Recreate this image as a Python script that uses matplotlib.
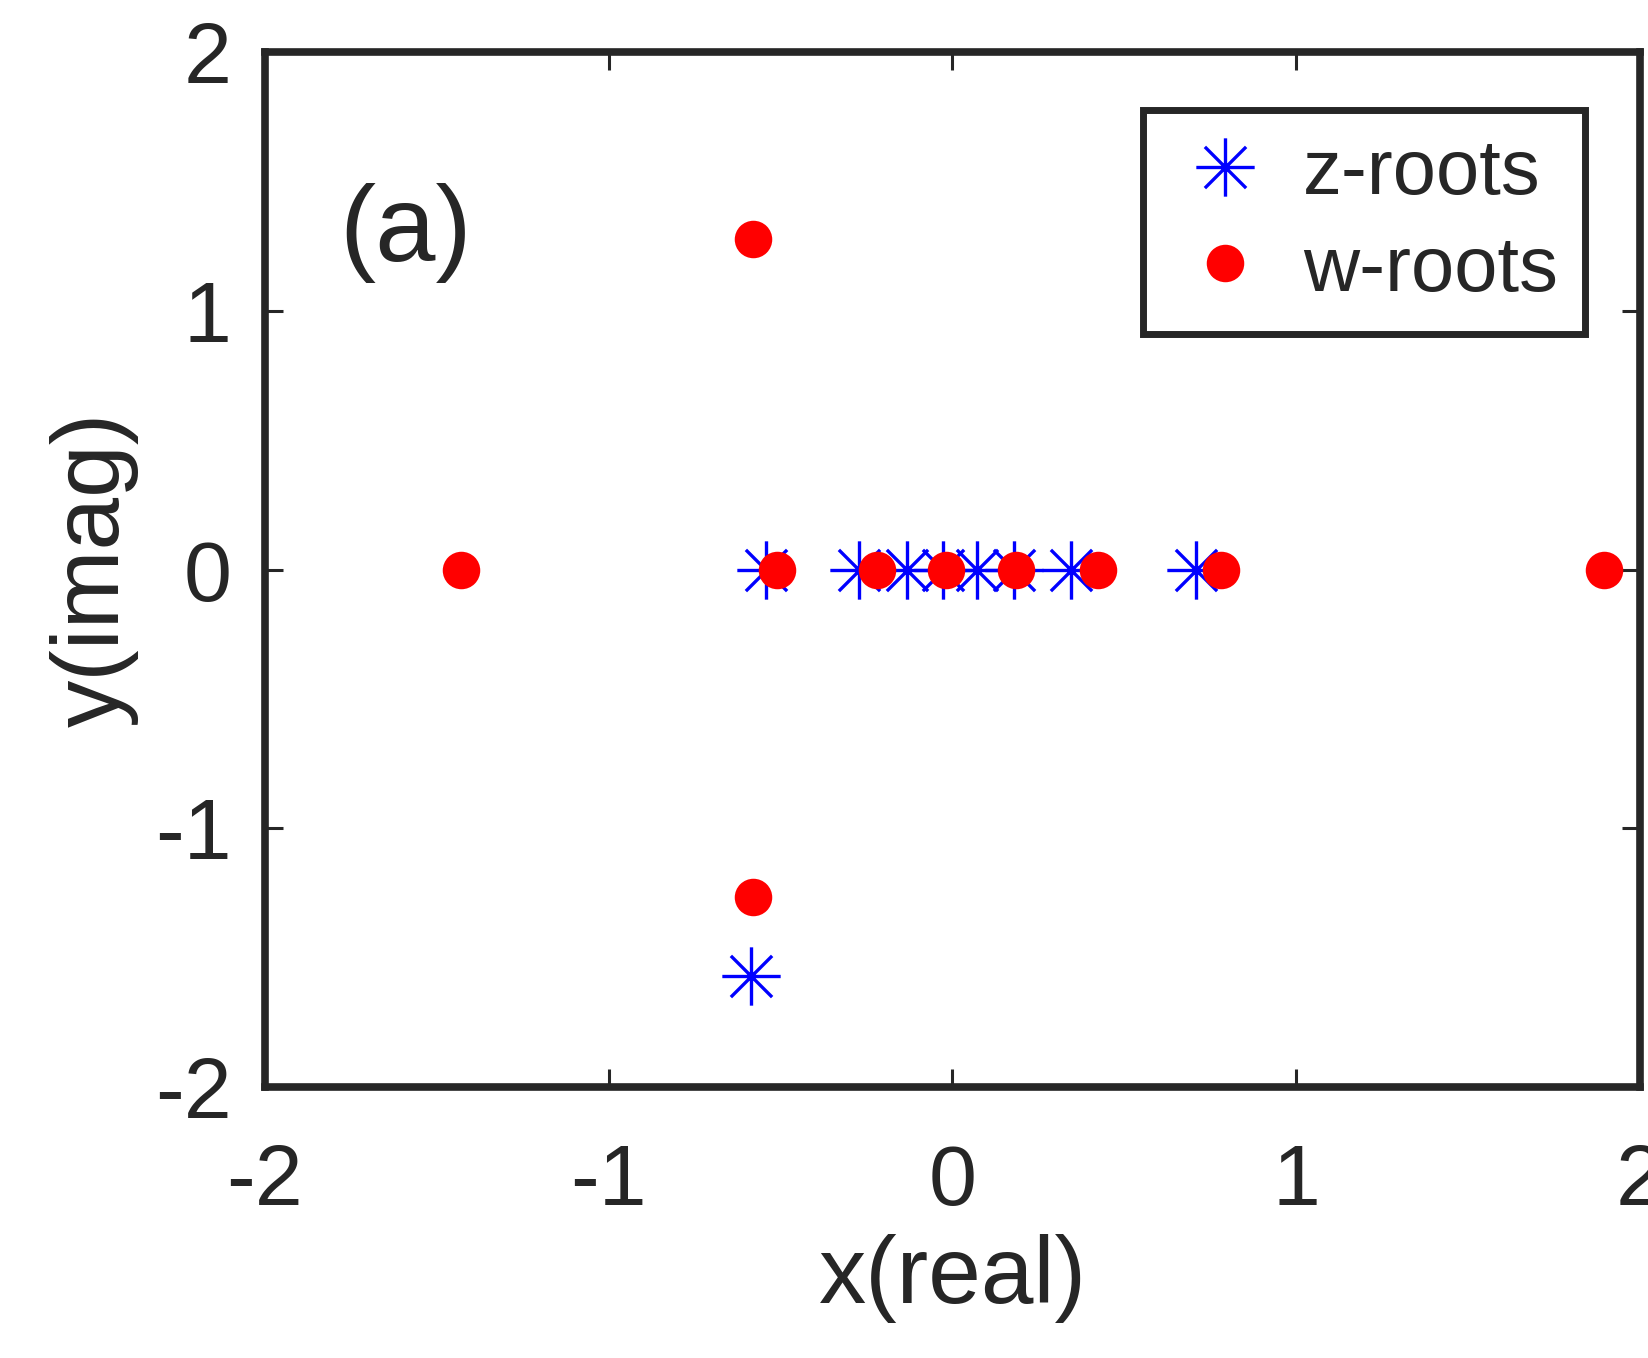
import numpy as np
import matplotlib
matplotlib.use("Agg")
import matplotlib.pyplot as plt
from matplotlib.path import Path

plt.rcParams['font.family'] = ['Liberation Sans', 'DejaVu Sans']
plt.rcParams['axes.unicode_minus'] = False

# roots
z_real = [-0.543, -0.273, -0.133, -0.028, 0.071, 0.179, 0.345, 0.709, -0.586]
z_imag = [0, 0, 0, 0, 0, 0, 0, 0, -1.571]
w_real = [-1.431, -0.511, -0.220, -0.019, 0.185, 0.423, 0.781, 1.895, -0.580, -0.580]
w_imag = [0, 0, 0, 0, 0, 0, 0, 0, 1.278, -1.266]

ticks = [-2, -1, 0, 1, 2]
dark = '#262626'

# MATLAB-style asterisk: + and x spokes
d = np.sqrt(0.5)
asterisk = Path([(-1, 0), (1, 0), (0, -1), (0, 1), (-d, -d), (d, d), (-d, d), (d, -d)],
                [Path.MOVETO, Path.LINETO] * 4)

fig = plt.figure(figsize=(16.49, 13.58), dpi=100)
ax = fig.add_axes([265 / 1649, 1 - 1087 / 1358, 1375 / 1649, 1035 / 1358])

ax.plot(z_real, z_imag, linestyle='none', marker=asterisk, markersize=42,
        markeredgecolor='#0000ff', markerfacecolor='none', markeredgewidth=2.4,
        label='z-roots')
ax.plot(w_real, w_imag, linestyle='none', marker='o', markersize=27,
        markeredgecolor='#ff0000', markerfacecolor='#ff0000', markeredgewidth=0,
        label='w-roots')

ax.set_xlim(-2, 2)
ax.set_ylim(-2, 2)
ax.set_xticks(ticks)
ax.set_yticks(ticks)
ax.tick_params(axis='both', direction='in', length=13, width=2.2, color=dark,
               labelcolor=dark, labelsize=62, top=True, right=True)
ax.tick_params(axis='x', pad=40)
ax.tick_params(axis='y', pad=24)
for s in ax.spines.values():
    s.set_linewidth(5.5)
    s.set_color(dark)

ax.set_xlabel('x(real)', fontsize=68, color=dark, labelpad=8)
ax.set_ylabel('y(imag)', fontsize=68, color=dark, labelpad=12)

ax.text(-1.59, 1.30, '(a)', fontsize=78, color=dark, ha='center', va='center')

leg = ax.legend(loc='upper right', bbox_to_anchor=(1585 / 1649, 1 - 110 / 1358),
                bbox_transform=fig.transFigure, borderaxespad=0, fontsize=56,
                frameon=True, fancybox=False, framealpha=1, edgecolor=dark,
                handlelength=1.4, handletextpad=0.3, borderpad=0.35,
                labelspacing=0.3)
leg.get_frame().set_linewidth(5)
for t in leg.get_texts():
    t.set_color(dark)

fig.savefig('out.png', dpi=100)
